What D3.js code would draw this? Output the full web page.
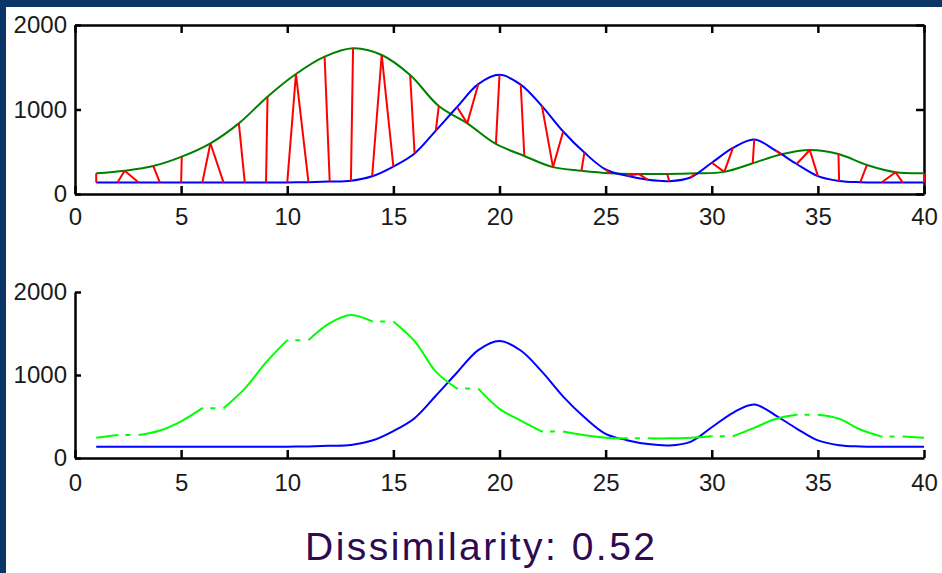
<!DOCTYPE html>
<html><head><meta charset="utf-8">
<script src="https://cdn.jsdelivr.net/npm/d3@7/dist/d3.min.js"></script>
<style>html,body{margin:0;padding:0;background:#0a3566}svg{display:block}</style>
</head><body>
<svg id="chart" width="942" height="573"></svg>
<script>
// ---- data ----
const blueX = [1,2,3,4,5,6,7,8,9,10,11,12,13,14,15,16,17,18,19,20,21,22,23,24,25,26,27,28,29,30,31,32,33,34,35,36,37,38,39,40];
const blueValues = [135,135,135,135,135,135,135,135,135,137,140,147,157,210,325,480,750,1030,1300,1410,1295,1040,740,490,290,215,168,152,195,370,545,645,515,355,212,155,140,136,135,135];
const greenX = [1,2.34,3.69,5.03,6.38,7.72,9.07,10.41,11.76,13.10,14.45,15.79,17.14,18.48,19.83,21.17,22.52,23.86,25.21,26.55,27.90,29.24,30.59,31.93,33.28,34.62,35.97,37.31,38.66,40];
const greenValues = [245,276,331,442,600,836,1152,1420,1625,1724,1645,1408,1041,836,592,450,318,275,245,237,237,245,262,363,470,521,473,343,258,245];
// DTW warping path: [green index, blue index]
const warpPath = [[0,0],[1,1],[1,2],[2,3],[3,4],[4,5],[4,6],[5,7],[6,8],[7,9],[7,10],[8,11],[9,12],[10,13],[10,14],[11,15],[12,16],[13,17],[13,18],[14,19],[15,20],[16,21],[16,22],[17,23],[18,24],[19,25],[19,26],[20,27],[21,28],[22,29],[22,30],[23,31],[24,32],[25,33],[25,34],[26,35],[27,36],[28,37],[28,38],[29,39]];
const xTicks = [0,5,10,15,20,25,30,35,40];
const yTicks = [0,1000,2000];
const caption = "Dissimilarity: 0.52";

// ---- drawing ----
const svg = d3.select("#chart");
svg.append("rect").attr("x",6).attr("y",7).attr("width",936).attr("height",566).attr("fill","#ffffff");

const FONT = "'Liberation Sans', Arial, sans-serif";
const x = d3.scaleLinear().domain([0,40]).range([75,924]);
const yTop = d3.scaleLinear().domain([0,2000]).range([194,25]);
const yBot = d3.scaleLinear().domain([0,2000]).range([458,292]);
const fmt = d3.format("d");
const smooth = d3.curveCatmullRom.alpha(0.5);

function styleAxis(g){
  g.selectAll("path,line").attr("stroke","#000").attr("stroke-width",2.5);
  g.selectAll("text").attr("fill","#1a1a1a").style("font-family",FONT).style("font-size","24px");
  g.attr("font-family",null).attr("font-size",null);
}

// top panel
const topG = svg.append("g");
topG.append("g").attr("transform","translate(0,194)")
  .call(d3.axisBottom(x).tickValues(xTicks).tickFormat(fmt).tickSize(-8).tickSizeOuter(0).tickPadding(14)).call(styleAxis);
topG.append("g").attr("transform","translate(0,25)")
  .call(d3.axisTop(x).tickValues(xTicks).tickSize(-8).tickSizeOuter(0).tickFormat("")).call(styleAxis);
topG.append("g").attr("transform","translate(75,0)")
  .call(d3.axisLeft(yTop).tickValues(yTicks).tickFormat(fmt).tickSize(-6).tickSizeOuter(0).tickPadding(8)).call(styleAxis);
topG.append("g").attr("transform","translate(924,0)")
  .call(d3.axisRight(yTop).tickValues(yTicks).tickSize(-8).tickSizeOuter(0).tickFormat("")).call(styleAxis);

const lineTop = d3.line().x(d=>x(d[0])).y(d=>yTop(d[1])).curve(smooth);
topG.append("path").datum(greenX.map((v,i)=>[v,greenValues[i]]))
  .attr("d",lineTop).attr("fill","none").attr("stroke","#008000").attr("stroke-width",2);
topG.append("path").datum(blueX.map((v,i)=>[v,blueValues[i]]))
  .attr("d",lineTop).attr("fill","none").attr("stroke","#0000ff").attr("stroke-width",2);
topG.selectAll("line.warp").data(warpPath).join("line").attr("class","warp")
  .attr("x1",d=>x(greenX[d[0]])).attr("y1",d=>yTop(greenValues[d[0]]))
  .attr("x2",d=>x(blueX[d[1]])).attr("y2",d=>yTop(blueValues[d[1]]))
  .attr("stroke","#ff0000").attr("stroke-width",2);

// bottom panel
const botG = svg.append("g");
botG.append("g").attr("transform","translate(0,458)")
  .call(d3.axisBottom(x).tickValues(xTicks).tickFormat(fmt).tickSize(-8).tickSizeOuter(0).tickPadding(16)).call(styleAxis);
botG.append("g").attr("transform","translate(75,0)")
  .call(d3.axisLeft(yBot).tickValues(yTicks).tickFormat(fmt).tickSize(-6).tickSizeOuter(0).tickPadding(8)).call(styleAxis);

const lineBot = d3.line().x(d=>x(d[0])).y(d=>yBot(d[1])).curve(smooth);
botG.append("path").datum(blueX.map((v,i)=>[v,blueValues[i]]))
  .attr("d",lineBot).attr("fill","none").attr("stroke","#0000ff").attr("stroke-width",2);

// warped green: value of aligned green point at each blue position
const warped = warpPath.map(p=>({gi:p[0], xv:blueX[p[1]], v:greenValues[p[0]]}));
// split into runs of changing values (solid) and repeated ones (dashed)
const runs = [];
let cur = [warped[0]];
for (let k=1;k<warped.length;k++){
  if (warped[k].gi===warped[k-1].gi){
    if (cur.length>1) runs.push(cur);
    cur = [warped[k]];
  } else cur.push(warped[k]);
}
if (cur.length>1) runs.push(cur);
botG.selectAll("path.wg").data(runs).join("path").attr("class","wg")
  .attr("d",r=>lineBot(r.map(p=>[p.xv,p.v])))
  .attr("fill","none").attr("stroke","#00ff00").attr("stroke-width",2);
const flats = d3.pairs(warped).filter(d=>d[0].gi===d[1].gi);
botG.selectAll("line.wf").data(flats).join("line").attr("class","wf")
  .attr("x1",d=>x(d[0].xv)).attr("y1",d=>yBot(d[0].v))
  .attr("x2",d=>x(d[1].xv)).attr("y2",d=>yBot(d[1].v))
  .attr("stroke","#00ff00").attr("stroke-width",2)
  .attr("stroke-dasharray","1,7,5,8");

svg.append("text").attr("x",480).attr("y",560).attr("text-anchor","middle")
  .attr("textLength",350).attr("lengthAdjust","spacing")
  .style("font-family",FONT).style("font-size","39px").attr("fill","#2e0a52")
  .text(caption);
</script>
</body></html>
